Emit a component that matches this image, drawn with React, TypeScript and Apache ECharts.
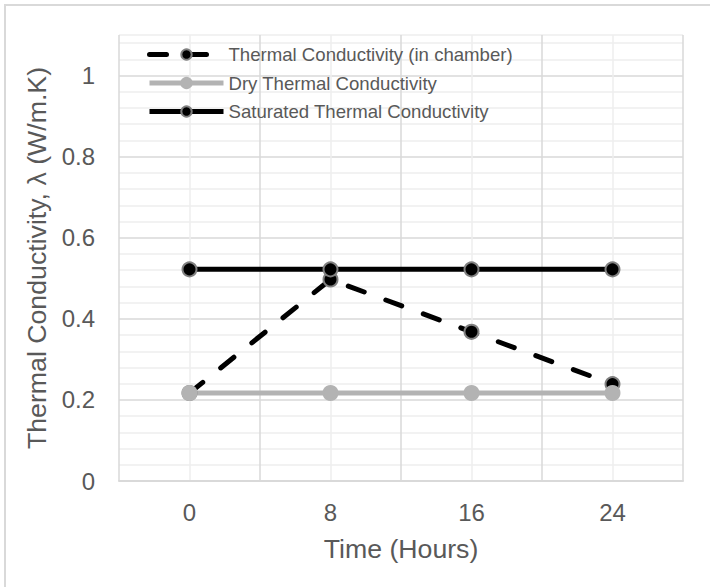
import React, { useEffect, useRef } from "react";
import * as echarts from "echarts";

// Sampling times (hours)
const hours = [0, 8, 16, 24];

// Thermal conductivity values, W/m.K
const inChamber = [0.217, 0.497, 0.368, 0.239];
const dryConductivity = [0.217, 0.217, 0.217, 0.217];
const saturatedConductivity = [0.522, 0.522, 0.522, 0.522];

// Tick labels shown on each axis
const xTickLabels = [0, 8, 16, 24];
const yTickLabels = [0, 0.2, 0.4, 0.6, 0.8, 1];

const seriesNames = [
  "Thermal Conductivity (in chamber)",
  "Dry Thermal Conductivity",
  "Saturated Thermal Conductivity",
];

const FONT = "'Liberation Sans', Arial, sans-serif";
const TEXT = "#595959";
const GRID_MAJOR = "#d9d9d9";
const GRID_MINOR = "#eeeeee";
const DRY = "#b3b3b3";

const pairs = (vals: number[]) => hours.map((h, i) => [h, vals[i]]);

export default function App() {
  const ref = useRef<HTMLDivElement>(null);

  useEffect(() => {
    document.body.style.margin = "0";
    if (!ref.current) return;
    const chart = echarts.init(ref.current, undefined, { renderer: "svg" });

    const markerBase = {
      type: "line" as const,
      symbol: "circle",
      symbolSize: 14,
    };

    chart.setOption({
      animation: false,
      backgroundColor: "#ffffff",
      textStyle: { fontFamily: FONT },
      graphic: [
        {
          type: "rect",
          shape: { x: 5, y: 5, width: 730, height: 600 },
          style: { fill: "none", stroke: GRID_MAJOR, lineWidth: 2 },
          z: -10,
          silent: true,
        },
      ],
      grid: { left: 119, right: 27, top: 35, bottom: 106 },
      legend: {
        left: 142,
        top: 39,
        orient: "vertical",
        itemWidth: 74,
        itemHeight: 13,
        itemGap: 7.5,
        data: seriesNames,
        lineStyle: { width: 5 },
        textStyle: { fontFamily: FONT, fontSize: 18.6, color: TEXT, lineHeight: 21 },
      },
      xAxis: {
        type: "value",
        min: -4,
        max: 28,
        interval: 4,
        name: "Time (Hours)",
        nameLocation: "middle",
        nameGap: 54,
        nameTextStyle: { fontFamily: FONT, fontSize: 26.7, color: TEXT },
        axisLine: { show: true, lineStyle: { color: GRID_MAJOR, width: 2 } },
        axisTick: { show: false },
        axisLabel: {
          fontFamily: FONT,
          fontSize: 24,
          color: TEXT,
          margin: 19,
          formatter: (v: number) =>
            xTickLabels.some((t) => Math.abs(t - v) < 1e-6) ? String(v) : "",
        },
        splitLine: {
          show: true,
          lineStyle: { color: [GRID_MAJOR, GRID_MINOR], width: 1.5 },
        },
      },
      yAxis: {
        type: "value",
        min: 0,
        max: 1.1,
        interval: 0.04,
        name: "Thermal Conductivity, λ (W/m.K)",
        nameLocation: "middle",
        nameGap: 67,
        nameTextStyle: { fontFamily: FONT, fontSize: 26.7, color: TEXT },
        axisLine: { show: false },
        axisTick: { show: false },
        axisLabel: {
          fontFamily: FONT,
          fontSize: 24,
          color: TEXT,
          margin: 24,
          showMaxLabel: false,
          formatter: (v: number) => {
            const hit = yTickLabels.find((t) => Math.abs(t - v) < 1e-6);
            return hit === undefined ? "" : String(hit);
          },
        },
        splitLine: {
          show: true,
          lineStyle: {
            color: [GRID_MAJOR, GRID_MINOR, GRID_MINOR, GRID_MINOR, GRID_MINOR],
            width: 1.5,
          },
        },
      },
      series: [
        {
          ...markerBase,
          name: seriesNames[0],
          data: pairs(inChamber),
          lineStyle: { color: "#000000", width: 5, type: [17, 23], cap: "round" },
          itemStyle: { color: "#000000", borderColor: "#808080", borderWidth: 2 },
        },
        {
          ...markerBase,
          name: seriesNames[1],
          data: pairs(dryConductivity),
          lineStyle: { color: DRY, width: 5 },
          itemStyle: { color: DRY, borderColor: DRY, borderWidth: 2 },
        },
        {
          ...markerBase,
          name: seriesNames[2],
          data: pairs(saturatedConductivity),
          lineStyle: { color: "#000000", width: 5 },
          itemStyle: { color: "#000000", borderColor: "#808080", borderWidth: 2 },
        },
      ],
    });

    return () => chart.dispose();
  }, []);

  return <div ref={ref} style={{ width: 710, height: 587 }} />;
}
